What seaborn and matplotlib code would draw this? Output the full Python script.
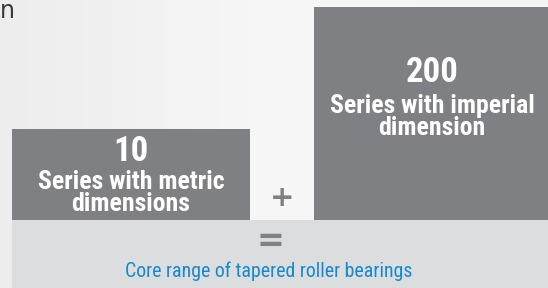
import numpy as np
import matplotlib
matplotlib.use("Agg")
import matplotlib.pyplot as plt
import seaborn as sns
from matplotlib.patches import Rectangle
from matplotlib.colors import LinearSegmentedColormap
from matplotlib import font_manager as fm

# ---- data ----
categories = ["metric", "imperial"]
series_counts = ["10", "200"]
label_line1 = ["Series with metric", "Series with imperial"]
label_line2 = ["dimensions", "dimension"]
bar_heights = [91, 213]          # visual heights as drawn in the reference
result_label = "Core range of tapered roller bearings"
corner_text = "n"

sns.set_theme(style="white")
names = {f.name for f in fm.fontManager.ttflist}
cond_fams = [n for n in ["Roboto Condensed", "Liberation Sans Narrow"] if n in names]
plt.rcParams["font.family"] = cond_fams + ["DejaVu Sans"]

BAR = "#7f8084"
BAND = "#dcdddf"
BLUE = "#1689cc"

fig = plt.figure(figsize=(5.48, 2.88), dpi=100)
ax = fig.add_axes([0, 0, 1, 1])

grad = np.linspace(0, 1, 256)[None, :]
cm = LinearSegmentedColormap.from_list("bg", ["#ededed", "#f7f7f7", "#f5f5f5"])
ax.imshow(grad, extent=[0, 548, -68, 220], aspect="auto", cmap=cm, zorder=0)

sns.barplot(x=categories, y=bar_heights, color=BAR, saturation=1, ax=ax, zorder=2)

lefts = [12, 314]
widths = [238, 234]
for p, l, w in zip(ax.patches, lefts, widths):
    p.set_x(l)
    p.set_width(w)
    p.set_facecolor(BAR)
    p.set_edgecolor("none")

ax.set_xlim(0, 548)
ax.set_ylim(-68, 220)
ax.axis("off")

ax.add_patch(Rectangle((12, -68), 536, 68, facecolor=BAND, edgecolor="none", zorder=2))

def py(y):  # pixel row -> data y
    return 220 - y

centers = [131, 432]
num_base = [161, 82]
l1_base = [189, 113]
l2_base = [211, 135]
for i, c in enumerate(centers):
    ax.text(c, py(num_base[i]), series_counts[i], ha="center", va="baseline",
            color="white", fontsize=25, fontweight="bold", fontstretch="condensed", zorder=3)
    ax.text(c, py(l1_base[i]), label_line1[i], ha="center", va="baseline",
            color="white", fontsize=18.5, fontweight="bold", fontstretch="condensed", zorder=3)
    ax.text(c, py(l2_base[i]), label_line2[i], ha="center", va="baseline",
            color="white", fontsize=18.5, fontweight="bold", fontstretch="condensed", zorder=3)

ax.text(282, py(198), "+", ha="center", va="center", color=BAR, fontsize=21,
        fontweight="bold", family=["DejaVu Sans"], zorder=3)
ax.text(270, py(241), "=", ha="center", va="center", color=BAR, fontsize=24,
        fontweight="bold", family=["DejaVu Sans"], zorder=3)
ax.text(269, py(277), result_label, ha="center", va="baseline", color=BLUE,
        fontsize=14.3, fontstretch="condensed", zorder=3)
ax.text(0, py(18), corner_text, ha="left", va="baseline", color="#3a3a3a",
        fontsize=17, family=["DejaVu Sans"], zorder=3)

fig.savefig("out.png", dpi=100)
